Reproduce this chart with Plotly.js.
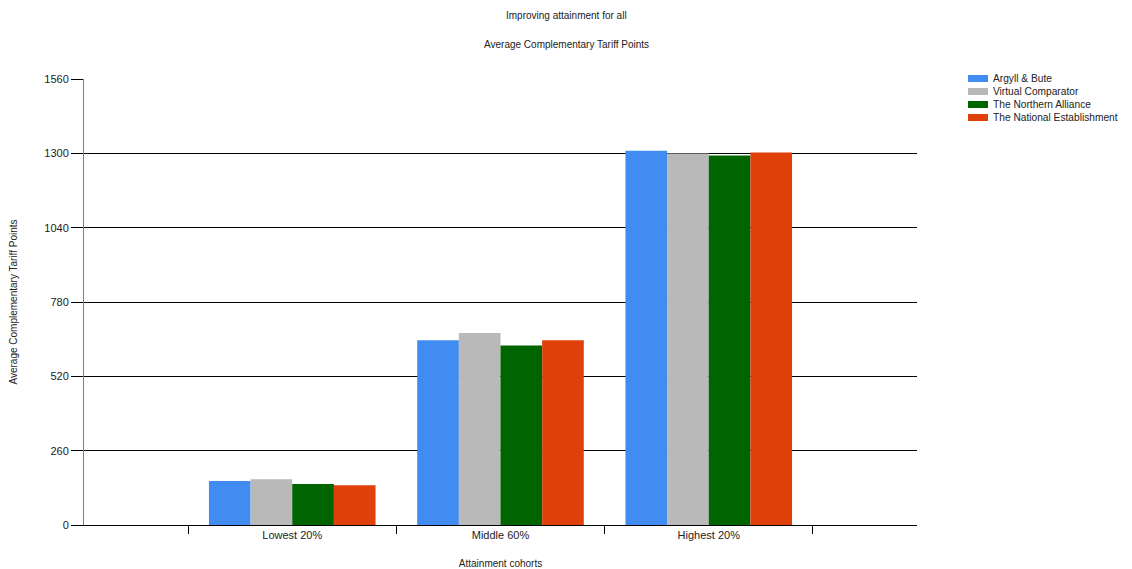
<!DOCTYPE html>
<html>
<head>
<meta charset="utf-8">
<script src="https://cdn.plot.ly/plotly-3.0.1.min.js"></script>
<style>html,body{margin:0;padding:0;background:#fff;}#chart{width:1132px;height:569px;}</style>
</head>
<body>
<div id="chart"></div>
<script>
const categories = ["Lowest 20%", "Middle 60%", "Highest 20%"];
const seriesNames = ["Argyll & Bute", "Virtual Comparator", "The Northern Alliance", "The National Establishment"];
const argyllBute = [154, 646, 1309];
const virtualComparator = [160, 672, 1299];
const northernAlliance = [143, 628, 1292];
const nationalEstablishment = [139, 646, 1303];
const yTicks = [0, 260, 520, 780, 1040, 1300, 1560];
const colors = ["#418CF0", "#B9B9B9", "#006400", "#E0400A"];

const values = [argyllBute, virtualComparator, northernAlliance, nationalEstablishment];
const fam = "Liberation Sans, Arial, sans-serif";
const txt = "#222";

const W = 1132, H = 569;
const M = {l: 84, r: 215, t: 79, b: 44};
const pw = W - M.l - M.r, ph = H - M.t - M.b;
const px2x = p => (p - M.l) / pw;
const py2y = p => (H - M.b - p) / ph;

const traces = values.map((v, i) => ({
  type: "bar",
  name: seriesNames[i],
  x: categories,
  y: v,
  marker: {color: colors[i], line: {width: 0}},
  hoverinfo: "none",
  showlegend: false
}));

// manual legend (matches the compact legend of the original)
const shapes = [];
const annotations = [
  {text: "Improving attainment for all", xref: "paper", yref: "paper", x: px2x(566), y: py2y(15), xanchor: "center", yanchor: "middle", showarrow: false, font: {family: fam, size: 10, color: txt}},
  {text: "Average Complementary Tariff Points", xref: "paper", yref: "paper", x: px2x(566), y: py2y(44), xanchor: "center", yanchor: "middle", showarrow: false, font: {family: fam, size: 10, color: txt}}
];
seriesNames.forEach((name, i) => {
  const cy = 78.5 + i * 13;
  shapes.push({type: "rect", xref: "paper", yref: "paper", x0: px2x(968), x1: px2x(988), y0: py2y(cy - 3.5), y1: py2y(cy + 3.5), fillcolor: colors[i], line: {width: 0}});
  annotations.push({text: name, xref: "paper", yref: "paper", x: px2x(991), y: py2y(cy), xanchor: "left", yanchor: "middle", showarrow: false, font: {family: fam, size: 10.2, color: txt}});
});

const layout = {
  width: W, height: H,
  margin: {l: M.l, r: M.r, t: M.t, b: M.b, autoexpand: false},
  paper_bgcolor: "#fff", plot_bgcolor: "#fff",
  font: {family: fam, size: 11, color: txt},
  barmode: "group",
  bargap: 0.2, bargroupgap: 0,
  showlegend: false,
  xaxis: {
    type: "category",
    range: [-1, 3],
    showgrid: false,
    showline: true, linecolor: "#000", linewidth: 1,
    ticks: "outside", ticklen: 8, tickcolor: "#000", tickson: "boundaries",
    tickfont: {family: fam, size: 11, color: txt},
    title: {text: "Attainment cohorts", font: {family: fam, size: 10, color: txt}, standoff: 19},
    zeroline: false, fixedrange: true
  },
  yaxis: {
    range: [0, 1560],
    tickvals: yTicks,
    ticktext: yTicks.map(String),
    showgrid: true, gridcolor: "#000", gridwidth: 1,
    showline: true, linecolor: "#808080", linewidth: 1,
    ticks: "outside", ticklen: 12, tickcolor: "#000",
    tickfont: {family: fam, size: 11, color: txt},
    title: {text: "Average Complementary Tariff Points", font: {family: fam, size: 10, color: txt}, standoff: 24},
    zeroline: false, fixedrange: true
  },
  shapes: shapes,
  annotations: annotations
};

Plotly.newPlot("chart", traces, layout, {staticPlot: true, displayModeBar: false});
</script>
</body>
</html>
